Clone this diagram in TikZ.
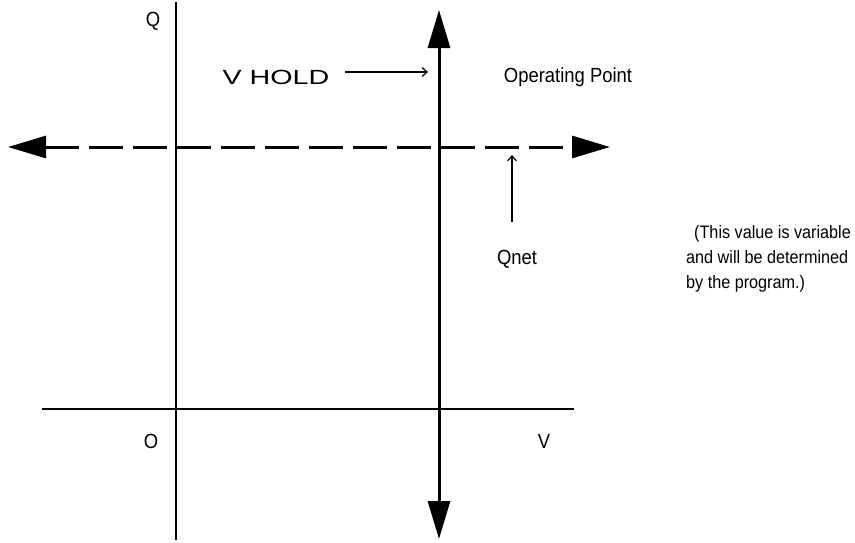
\documentclass[tikz,border=0pt]{standalone}
\usepackage{fontspec}
\setmainfont{Liberation Sans}
\newfontfamily\narrowsans[FakeStretch=0.9]{Liberation Sans}
\newfontfamily\widesans[FakeStretch=1.4]{Liberation Sans}
\usetikzlibrary{arrows.meta}
\begin{document}
\begin{tikzpicture}[x=1pt,y=-1pt,
  axisline/.style={line width=1.4pt},
  holdline/.style={line width=3pt,{Triangle[length=38pt,width=22pt]}-{Triangle[length=38pt,width=22pt]}},
  qnetline/.style={line width=3pt,dash pattern=on 34pt off 10pt,{Triangle[length=38pt,width=22pt]}-{Triangle[length=38pt,width=22pt]}},
  pointer/.style={line width=1.3pt,-{Straight Barb[length=5pt,width=9pt,line width=1.2pt]}},
  lbl/.style={font=\narrowsans\fontsize{20.5}{25}\selectfont,inner sep=0pt},
  widelbl/.style={font=\widesans\fontsize{20.5}{25}\selectfont,inner sep=0pt},
  notelbl/.style={font=\narrowsans\fontsize{18}{25}\selectfont,inner sep=0pt}
]
\useasboundingbox (0,0) rectangle (855,542);

% Q and V axes
\coordinate (qaxis-top) at (176,2);
\coordinate (qaxis-bot) at (176,540);
\coordinate (vaxis-left) at (42,409);
\coordinate (vaxis-right) at (574,409);
\draw[axisline] (qaxis-top) -- (qaxis-bot);
\draw[axisline] (vaxis-left) -- (vaxis-right);

% holding voltage line
\coordinate (hold-top) at (439,10);
\coordinate (hold-bot) at (439,539);
\draw[holdline] (hold-bot) -- (hold-top);

% net charge line
\coordinate (qnet-left) at (8,147);
\coordinate (qnet-right) at (610,147);
\draw[qnetline] (qnet-left) -- (qnet-right);

% axis labels
\node[lbl] (qlabel) at (153,21) {Q};
\node[lbl] (olabel) at (151,441) {O};
\node[lbl] (vlabel) at (544,441) {V};

% annotations
\node[widelbl] (vhold) at (276,77) {V HOLD};
\coordinate (vhold-tail) at (345,72);
\coordinate (vhold-tip) at (428,72);
\draw[pointer] (vhold-tail) -- (vhold-tip);

\node[lbl] (oppoint) at (568,77) {Operating Point};

\node[lbl] (qnet) at (517,259) {Qnet};
\coordinate (qnet-foot) at (512,222);
\coordinate (qnet-tip) at (512,155);
\draw[pointer] (qnet-foot) -- (qnet-tip);

\node[notelbl,anchor=north west,align=left] (note) at (686,225)
  {\hspace*{8pt}(This value is variable\\and will be determined\\by the program.)};
\end{tikzpicture}
\end{document}
